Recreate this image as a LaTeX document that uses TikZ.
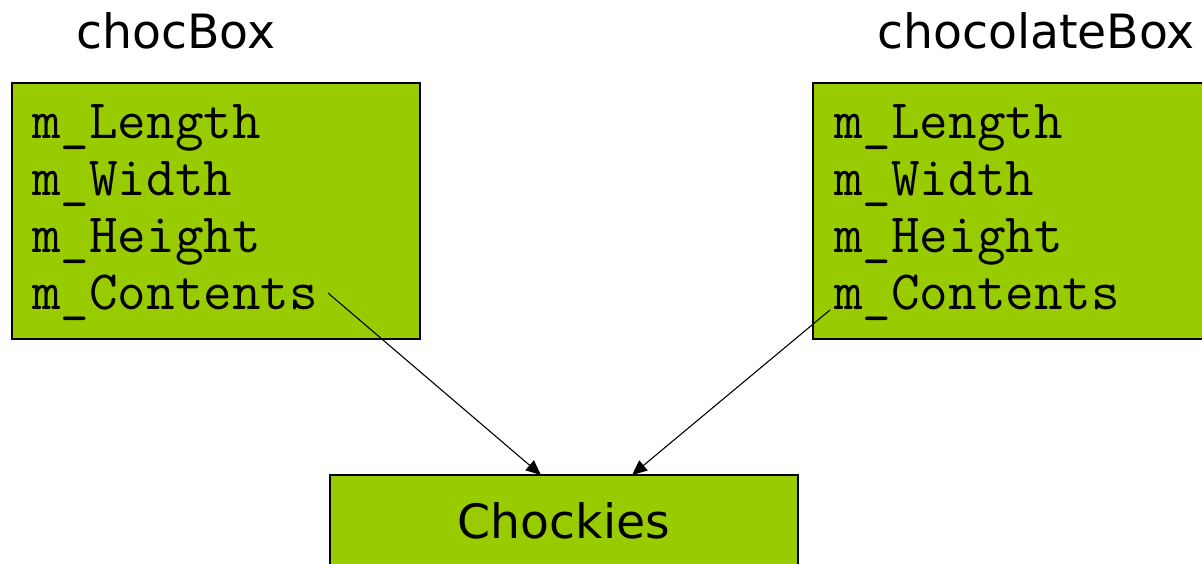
\documentclass[tikz,border=0pt]{standalone}
\usepackage{fontspec}
\setmainfont{DejaVu Sans}
\usetikzlibrary{arrows.meta}
\definecolor{boxgreen}{HTML}{99CC00}
\begin{document}
\begin{tikzpicture}[x=1pt,y=-1pt,
  greenbox/.style={draw=black,fill=boxgreen,line width=1.2pt},
  title/.style={anchor=base,inner sep=0pt,font=\fontsize{47.3}{50}\selectfont},
  field/.style={anchor=base west,inner sep=0pt,font=\ttfamily\fontsize{55.5}{58}\selectfont},
  link/.style={line width=1.1pt,-{Triangle[length=15pt,width=13pt]}}]
\useasboundingbox (0,0) rectangle (1202,563);
\clip (0,0) rectangle (1202,563);
% titles
\node[title] (t1) at (176,48) {chocBox};
\node[title] (t2) at (1036,48) {chocolateBox};
% boxes
\path[greenbox] (12,83) rectangle (420,339);
\path[greenbox] (813,83) rectangle (1215,339);
\path[greenbox] (330,475) rectangle (798,580);
% fields left
\node[field] (l1) at (32,138) {m\_Length};
\node[field] (l2) at (32,195) {m\_Width};
\node[field] (l3) at (32,252) {m\_Height};
\node[field] (l4) at (32,309) {m\_Contents};
% fields right
\node[field] (r1) at (834,138) {m\_Length};
\node[field] (r2) at (834,195) {m\_Width};
\node[field] (r3) at (834,252) {m\_Height};
\node[field] (r4) at (834,309) {m\_Contents};
% bottom
\node[title] (ch) at (564,538) {Chockies};
\coordinate (s1) at (328,293);
\coordinate (s2) at (830,310);
\coordinate (e1) at (541,475);
\coordinate (e2) at (632,475);
\draw[link] (s1) -- (e1);
\draw[link] (s2) -- (e2);
\end{tikzpicture}
\end{document}
